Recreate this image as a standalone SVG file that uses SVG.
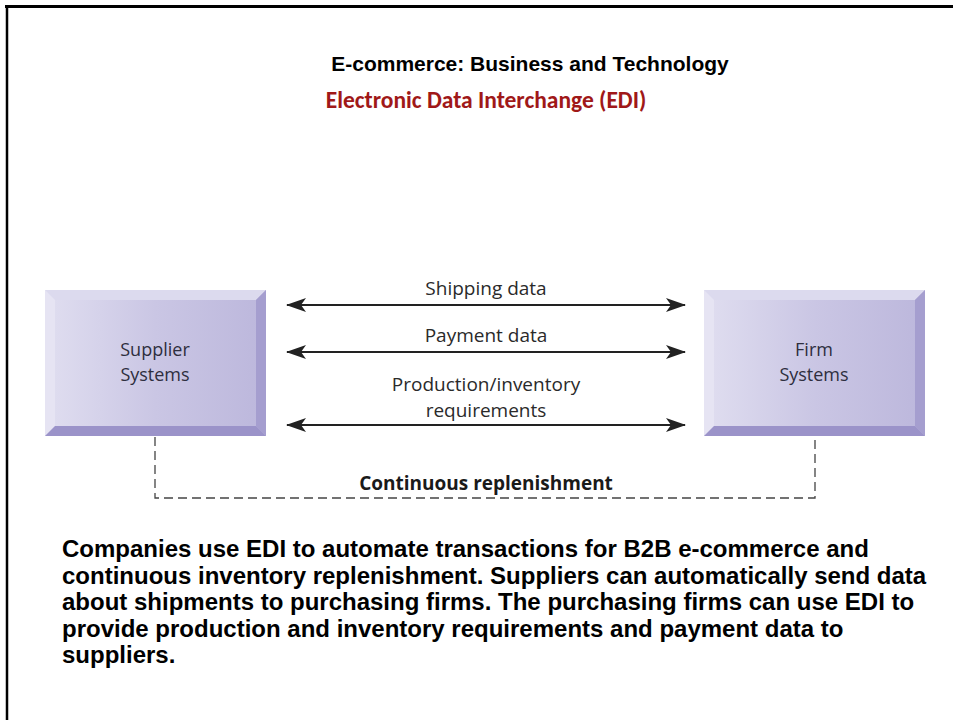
<svg xmlns="http://www.w3.org/2000/svg" width="953" height="720" viewBox="0 0 953 720">
<defs>
<linearGradient id="face" x1="0" y1="0" x2="1" y2="0">
<stop offset="0" stop-color="#e0def0"/>
<stop offset="0.5" stop-color="#cac6e4"/>
<stop offset="1" stop-color="#bcb7dc"/>
</linearGradient>
<marker id="ah" viewBox="0 0 20 14" refX="19" refY="7" markerWidth="20" markerHeight="14" markerUnits="userSpaceOnUse" orient="auto-start-reverse">
<path d="M0,0 L20,7 L0,14 L5,7 Z" fill="#222"/>
</marker>
<style>
.t{font-family:"Liberation Sans",Arial,sans-serif;font-weight:bold;fill:#000}
.lbl{font-family:"Open Sans","Noto Sans",sans-serif;font-size:19px;fill:#2a2a2a;text-anchor:middle}
.box{font-family:"Open Sans","Noto Sans",sans-serif;font-size:18px;fill:#2e2e3e;text-anchor:middle}
.arr{stroke:#222;stroke-width:2.2;fill:none;marker-start:url(#ah);marker-end:url(#ah)}
.dash{stroke:#444;stroke-width:1.3;fill:none;stroke-dasharray:9,5}
</style>
</defs>
<rect width="953" height="720" fill="#fff"/>
<line x1="5" y1="6.5" x2="953" y2="6.5" stroke="#000" stroke-width="3"/>
<line x1="7" y1="5" x2="7" y2="720" stroke="#000" stroke-width="2.5"/>
<text class="t" x="530" y="71" font-size="21" text-anchor="middle">E-commerce: Business and Technology</text>
<text x="486" y="108" font-family="Carlito,'Open Sans',sans-serif" font-weight="bold" font-size="23.5" fill="#a01818" text-anchor="middle">Electronic Data Interchange (EDI)</text>
<g id="supplier">
<rect x="45" y="290" width="221" height="146" fill="url(#face)"/>
<polygon points="45,290 266,290 256,300 55,300" fill="#dcdaee"/>
<polygon points="45,290 55,300 55,426 45,436" fill="#e6e4f3"/>
<polygon points="266,290 266,436 256,426 256,300" fill="#a59ecf"/>
<polygon points="45,436 55,426 256,426 266,436" fill="#9b93c9"/>
<text class="box" x="155" y="356">Supplier</text>
<text class="box" x="155" y="381">Systems</text>
</g>
<g id="firm">
<rect x="704" y="290" width="221" height="146" fill="url(#face)"/>
<polygon points="704,290 925,290 915,300 714,300" fill="#dcdaee"/>
<polygon points="704,290 714,300 714,426 704,436" fill="#e6e4f3"/>
<polygon points="925,290 925,436 915,426 915,300" fill="#a59ecf"/>
<polygon points="704,436 714,426 915,426 925,436" fill="#9b93c9"/>
<text class="box" x="814" y="356">Firm</text>
<text class="box" x="814" y="381">Systems</text>
</g>
<g id="connectors">
<line class="arr" x1="287" y1="305" x2="685" y2="305"/>
<line class="arr" x1="287" y1="352" x2="685" y2="352"/>
<line class="arr" x1="287" y1="425" x2="685" y2="425"/>
<text class="lbl" x="486" y="295">Shipping data</text>
<text class="lbl" x="486" y="342">Payment data</text>
<text class="lbl" x="486" y="391">Production/inventory</text>
<text class="lbl" x="486" y="417">requirements</text>
<polyline class="dash" points="155,437 155,498 815,498 815,437"/>
<text x="486" y="490" font-family="'Open Sans','Noto Sans',sans-serif" font-weight="bold" font-size="19" fill="#1a1a1a" text-anchor="middle">Continuous replenishment</text>
</g>
<g class="t" font-size="24">
<text x="62" y="557">Companies use EDI to automate transactions for B2B e-commerce and</text>
<text x="62" y="584">continuous inventory replenishment. Suppliers can automatically send data</text>
<text x="62" y="610">about shipments to purchasing firms. The purchasing firms can use EDI to</text>
<text x="62" y="637">provide production and inventory requirements and payment data to</text>
<text x="62" y="663">suppliers.</text>
</g>
</svg>
